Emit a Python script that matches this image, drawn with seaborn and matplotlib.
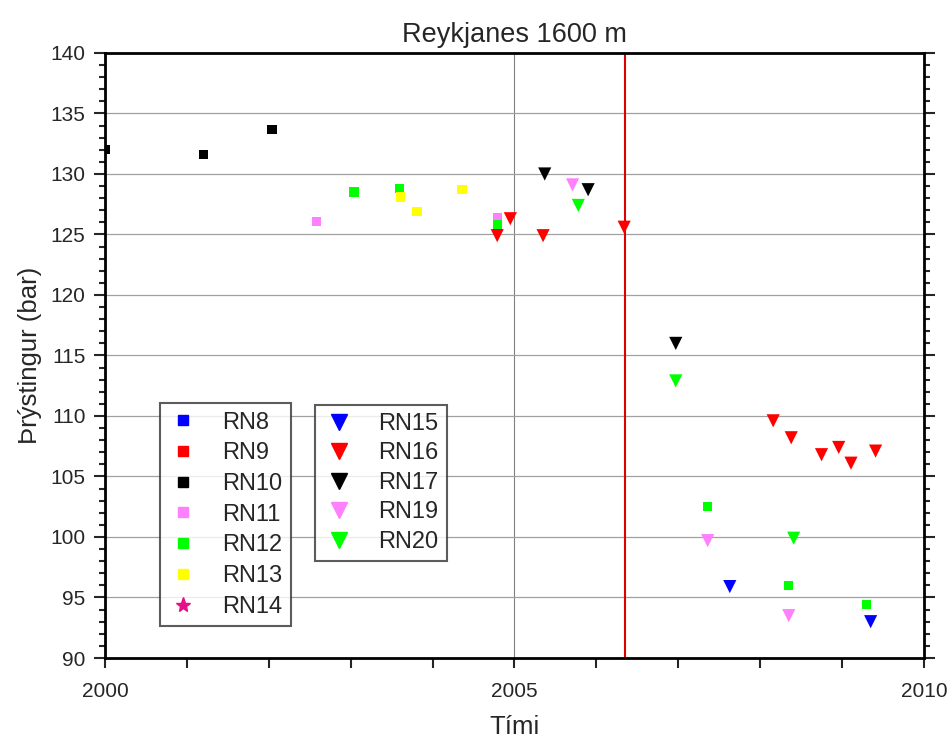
import matplotlib
matplotlib.use("Agg")
import matplotlib.pyplot as plt
from matplotlib.lines import Line2D
from matplotlib.ticker import MultipleLocator
import pandas as pd
import seaborn as sns

# pressure readings at 1600 m, per well
wells = ["RN8", "RN10", "RN10", "RN10", "RN11", "RN11",
         "RN12", "RN12", "RN12", "RN12", "RN12", "RN12",
         "RN13", "RN13", "RN13",
         "RN15", "RN15",
         "RN16", "RN16", "RN16", "RN16", "RN16", "RN16", "RN16", "RN16", "RN16", "RN16",
         "RN17", "RN17", "RN17",
         "RN19", "RN19", "RN19",
         "RN20", "RN20", "RN20"]
years = [2004.79, 2000.0, 2001.2, 2002.04, 2002.58, 2004.79,
         2003.04, 2003.6, 2004.79, 2007.36, 2008.35, 2009.3,
         2003.61, 2003.81, 2004.36,
         2007.63, 2009.35,
         2004.79, 2004.95, 2005.35, 2006.34, 2008.16, 2008.38, 2008.75, 2008.96, 2009.11, 2009.41,
         2005.37, 2005.9, 2006.97,
         2005.71, 2007.36, 2008.35,
         2005.78, 2006.97, 2008.41]
pressure = [125.5, 132.0, 131.6, 133.7, 126.1, 126.4,
            128.5, 128.8, 125.8, 102.5, 96.0, 94.4,
            128.1, 126.9, 128.7,
            95.9, 93.0,
            124.9, 126.3, 124.9, 125.6, 109.6, 108.2, 106.8, 107.4, 106.1, 107.1,
            130.0, 128.7, 116.0,
            129.1, 99.7, 93.5,
            127.4, 112.9, 99.9]

square_wells = ["RN8", "RN9", "RN10", "RN11", "RN12", "RN13", "RN14"]
triangle_wells = ["RN15", "RN16", "RN17", "RN19", "RN20"]
colors = {"RN8": "#0000ff", "RN9": "#ff0000", "RN10": "#000000", "RN11": "#ff80ff",
          "RN12": "#00ff00", "RN13": "#ffff00", "RN14": "#e8108a",
          "RN15": "#0000ff", "RN16": "#ff0000", "RN17": "#000000",
          "RN19": "#ff80ff", "RN20": "#00ff00"}
markers = {w: "s" for w in square_wells}
markers["RN14"] = "*"
markers.update({w: "v" for w in triangle_wells})

df = pd.DataFrame({"well": wells, "year": years, "pressure": pressure})

sns.set_style("white")
plt.rcParams["font.family"] = ["Liberation Sans", "DejaVu Sans"]

fig = plt.figure(figsize=(9.5, 7.38), dpi=100)
ax = fig.add_axes([0.1105, 0.1084, 0.862, 0.8198])

ax.axvline(2005, color="#808080", lw=0.8, zorder=0)
for yv in range(95, 140, 5):
    ax.axhline(yv, color="#a0a0a0", lw=0.9, zorder=0)
ax.axvline(2006.35, color="#dd0000", lw=1.5, zorder=1)

sq = df[df["well"].isin(square_wells)]
tr = df[df["well"].isin(triangle_wells)]
sns.scatterplot(data=sq, x="year", y="pressure", hue="well", palette=colors,
                marker="s", s=45, linewidth=0, legend=False, ax=ax, zorder=3)
sns.scatterplot(data=tr, x="year", y="pressure", hue="well", palette=colors,
                marker="v", s=90, linewidth=0, legend=False, ax=ax, zorder=3)

ax.set_xlim(2000, 2010)
ax.set_ylim(90, 140)
ax.xaxis.set_major_locator(MultipleLocator(5))
ax.xaxis.set_minor_locator(MultipleLocator(1))
ax.yaxis.set_major_locator(MultipleLocator(5))
ax.yaxis.set_minor_locator(MultipleLocator(1))
ax.tick_params(axis="x", which="both", direction="out", bottom=True, top=False,
               length=7, width=1.5, labelsize=15, pad=10)
ax.tick_params(axis="y", which="major", direction="out", left=True, right=True,
               length=8, width=1.5, labelsize=15, pad=6)
ax.tick_params(axis="y", which="minor", direction="out", left=True, right=True,
               length=4, width=1.5)
for sp in ax.spines.values():
    sp.set_linewidth(2)
    sp.set_color("black")

ax.set_title("Reykjanes 1600 m", fontsize=19.5, pad=8)
ax.set_xlabel("Tími", fontsize=18.5, labelpad=10)
ax.set_ylabel("Þrýstingur (bar)", fontsize=18.5, labelpad=6)

def handles(names, ms):
    return [Line2D([], [], linestyle="none", marker=markers[n], color=colors[n],
                   markersize=ms if markers[n] != "*" else ms + 4, label=n) for n in names]

leg1 = ax.legend(handles=handles(square_wells, 7), loc="upper left",
                 bbox_to_anchor=(0.067, 0.421), fontsize=17, frameon=True,
                 fancybox=False, edgecolor="#333333", handletextpad=1.0,
                 labelspacing=0.37, borderpad=0.35, handlelength=1.3,
                 borderaxespad=0)
leg1.get_frame().set_linewidth(1.5)
ax.add_artist(leg1)
leg2 = ax.legend(handles=handles(triangle_wells, 11), loc="upper left",
                 bbox_to_anchor=(0.257, 0.419), fontsize=17, frameon=True,
                 fancybox=False, edgecolor="#333333", handletextpad=1.0,
                 labelspacing=0.32, borderpad=0.35, handlelength=1.3,
                 borderaxespad=0)
leg2.get_frame().set_linewidth(1.5)

fig.savefig("out.png", dpi=100)
